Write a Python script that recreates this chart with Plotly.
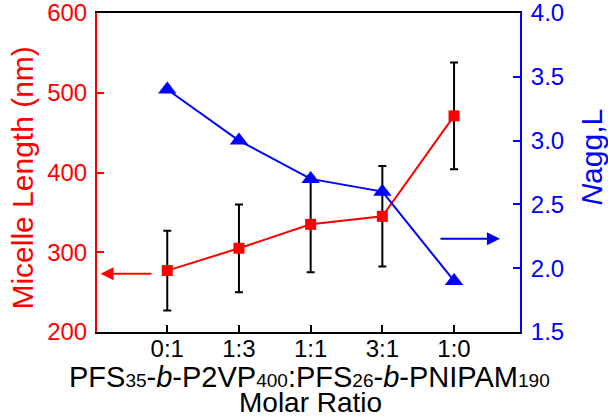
import plotly.graph_objects as go

# ---- data ----
ratio_labels = ["0:1", "1:3", "1:1", "3:1", "1:0"]
ratio_pos = [0, 1, 2, 3, 4]
micelle_length = [277, 305, 335, 345, 471]
micelle_err = [50, 55, 60, 63, 67]
nagg = [3.4, 3.0, 2.7, 2.6, 1.9]

# arrow annotations (tip, tail) in data coordinates
red_arrow = dict(x=-0.93, y=273, ax=-0.2, ay=273)
blue_arrow = dict(x=4.64, y=2.23, ax=3.79, ay=2.23)

RED = "#FF0000"
BLUE = "#0000FF"
FONT = "Liberation Sans, Arial, sans-serif"


def sub(s):
    return f'<span style="font-size:19px">{s}</span>'


x_title_1 = (f"PFS{sub('35')}-<i>b</i>-P2VP{sub('400')}:"
             f"PFS{sub('26')}-<i>b</i>-PNIPAM{sub('190')}")

fig = go.Figure()

fig.add_trace(go.Scatter(
    x=ratio_pos, y=micelle_length, mode="lines+markers",
    line=dict(color=RED, width=2),
    marker=dict(symbol="square", size=11, color=RED),
    error_y=dict(type="data", array=micelle_err, visible=True,
                 color="black", thickness=2, width=4),
    showlegend=False, yaxis="y",
))

fig.add_trace(go.Scatter(
    x=ratio_pos, y=nagg, mode="lines+markers",
    line=dict(color=BLUE, width=2),
    marker=dict(symbol="triangle-up", size=16, color=BLUE),
    showlegend=False, yaxis="y2",
))

fig.update_layout(
    width=608, height=419,
    margin=dict(l=97, r=88, t=13, b=87, autoexpand=False),
    paper_bgcolor="white", plot_bgcolor="white",
    font=dict(family=FONT, size=24, color="black"),
    xaxis=dict(
        range=[-0.98, 4.92], tickvals=ratio_pos, ticktext=ratio_labels,
        showgrid=False, zeroline=False, automargin=False,
        showline=True, linecolor="black", linewidth=2, mirror=True,
        ticks="inside", ticklen=7, tickwidth=2, tickcolor="black",
        tickfont=dict(size=24, color="black"),
        ticklabelstandoff=-6, ticklabeloverflow="allow",
    ),
    yaxis=dict(
        range=[200, 600], dtick=100, tick0=200,
        showgrid=False, zeroline=False, automargin=False,
        showline=True, linecolor=RED, linewidth=2,
        ticks="inside", ticklen=7, tickwidth=2, tickcolor=RED,
        tickfont=dict(size=24, color=RED),
        ticklabelstandoff=3, ticklabeloverflow="allow",
    ),
    yaxis2=dict(
        range=[1.5, 4.0], dtick=0.5, tick0=1.5, tickformat=".1f",
        overlaying="y", side="right", automargin=False,
        showgrid=False, zeroline=False,
        showline=True, linecolor=BLUE, linewidth=2,
        ticks="inside", ticklen=7, tickwidth=2, tickcolor=BLUE,
        tickfont=dict(size=24, color=BLUE),
        ticklabelstandoff=4, ticklabeloverflow="allow",
    ),
    annotations=[
        dict(text=x_title_1,
             xref="paper", yref="paper", x=0.503, y=-0.141,
             xanchor="center", yanchor="middle", showarrow=False,
             borderpad=0,
             font=dict(size=29, color="black", family=FONT)),
        dict(text="Molar Ratio",
             xref="paper", yref="paper", x=0.505, y=-0.222,
             xanchor="center", yanchor="middle", showarrow=False,
             borderpad=0,
             font=dict(size=28, color="black", family=FONT)),
        dict(text="Micelle Length (nm)", xref="paper", yref="paper",
             x=-0.1757, y=0.483, xanchor="center", yanchor="middle",
             textangle=-90, showarrow=False,
             font=dict(size=30, color=RED, family=FONT)),
        dict(text="<i>N</i>agg,L", xref="paper", yref="paper",
             x=1.1695, y=0.549, xanchor="center", yanchor="middle",
             textangle=-90, showarrow=False,
             font=dict(size=30, color=BLUE, family=FONT)),
        dict(text="", xref="x", yref="y", axref="x", ayref="y",
             showarrow=True, arrowhead=2, arrowsize=1.3, arrowwidth=2,
             arrowcolor=RED, **red_arrow),
        dict(text="", xref="x", yref="y2", axref="x", ayref="y2",
             showarrow=True, arrowhead=2, arrowsize=1.3, arrowwidth=2,
             arrowcolor=BLUE, **blue_arrow),
    ],
)

fig.write_html("out.html", config={"displayModeBar": False},
               post_script="document.body.style.margin='0';")
